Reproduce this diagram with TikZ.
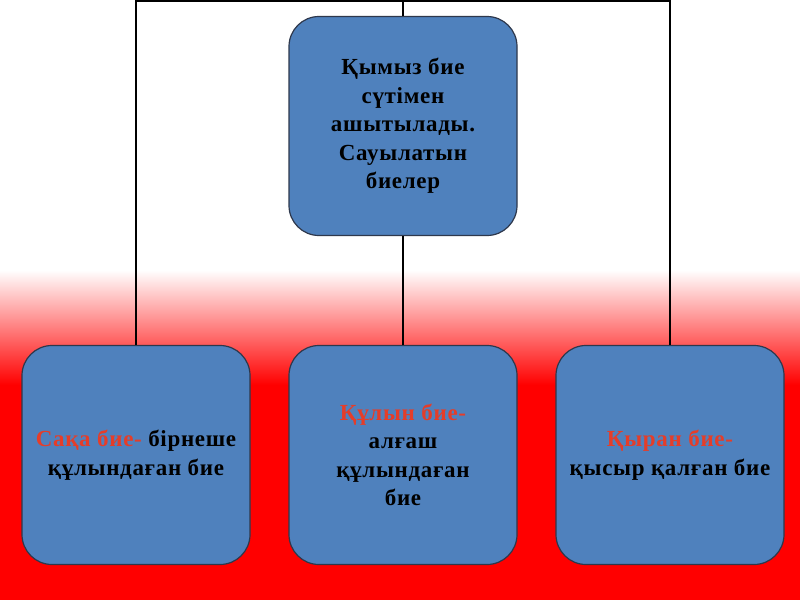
\documentclass[tikz,border=0pt]{standalone}
\usepackage{fontspec}
\setmainfont{Liberation Serif}
\newlength{\du}
\setlength{\du}{1pt}
\definecolor{boxfillcolor}{rgb}{0.310000, 0.506000, 0.741000}
\definecolor{boxlinecolor}{rgb}{0.180000, 0.220000, 0.300000}
\definecolor{namecolor}{rgb}{0.900000, 0.240000, 0.160000}
\definecolor{bgred}{rgb}{1.000000, 0.000000, 0.000000}
\tikzset{
  mare/.style={draw=boxlinecolor, fill=boxfillcolor, line width=1.2\du,
    rounded corners=30\du, minimum width=228\du, minimum height=219\du,
    align=center, inner sep=0pt,
    font=\fontsize{23}{28.5}\selectfont\bfseries\addfontfeature{LetterSpace=3}},
  link/.style={draw=black, line width=2\du}
}
\newcommand{\mname}[1]{\textcolor{namecolor}{#1}}

\begin{document}
\begin{tikzpicture}[x=1\du, y=-1\du]
% background
\fill[white] (0,0) rectangle (800,270);
\shade[top color=white, bottom color=bgred] (0,270) rectangle (800,385);
\fill[bgred] (0,385) rectangle (800,600);
% boxes
\node[mare] (qymyz) at (403,126) {Қымыз бие\\сүтімен\\ашытылады.\\Сауылатын\\биелер};
\node[mare] (saka) at (136,455) {\mname{Сақа бие-} бірнеше\\құлындаған бие};
\node[mare] (qulyn) at (403,455) {\mname{Құлын бие-}\\алғаш\\құлындаған\\бие};
\node[mare] (qyran) at (670,455) {\mname{Қыран бие-}\\қысыр қалған бие};
% connectors
\coordinate (bar) at (403,1);
\draw[link] (saka.north) |- (bar) -| (qyran.north);
\draw[link] (bar) -- (qymyz.north);
\draw[link] (qymyz.south) -- (qulyn.north);
\end{tikzpicture}
\end{document}
